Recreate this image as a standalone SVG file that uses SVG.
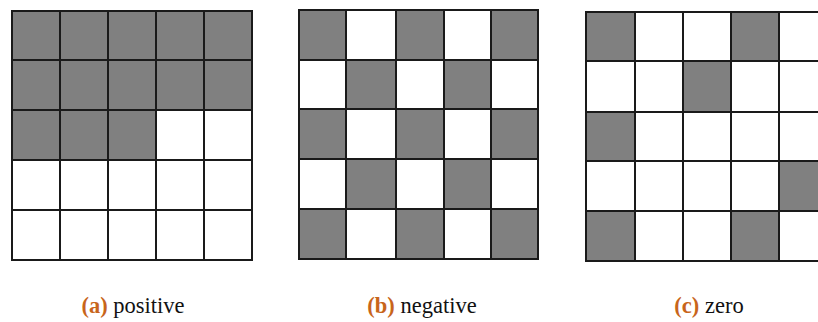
<svg xmlns="http://www.w3.org/2000/svg" width="818" height="322" viewBox="0 0 818 322">
<style>
.on{fill:#808080}
.off{fill:#ffffff}
.grid{fill:none;stroke:#1a1a1a;stroke-width:2}
.lbl{font-family:"Liberation Serif","DejaVu Serif",serif;font-size:22.5px;fill:#111}
.tag{fill:#c8651b;font-weight:bold}
</style>
<rect width="818" height="322" fill="#ffffff"/>
<g id="grid-a">
<rect class="on" x="12" y="11" width="240" height="100"/>
<rect class="on" x="12" y="110" width="144" height="50"/>
<path class="grid" d="M12 11H252V260H12Z M60 11V260 M108 11V260 M156 11V260 M204 11V260 M12 60H252 M12 110H252 M12 160H252 M12 210H252"/>
</g>
<g id="grid-b">
<rect class="on" x="299" y="10" width="47" height="50"/>
<rect class="on" x="396" y="10" width="48" height="50"/>
<rect class="on" x="491" y="10" width="47" height="50"/>
<rect class="on" x="346" y="60" width="50" height="49"/>
<rect class="on" x="444" y="60" width="47" height="49"/>
<rect class="on" x="299" y="109" width="47" height="50"/>
<rect class="on" x="396" y="109" width="48" height="50"/>
<rect class="on" x="491" y="109" width="47" height="50"/>
<rect class="on" x="346" y="159" width="50" height="50"/>
<rect class="on" x="444" y="159" width="47" height="50"/>
<rect class="on" x="299" y="209" width="47" height="50"/>
<rect class="on" x="396" y="209" width="48" height="50"/>
<rect class="on" x="491" y="209" width="47" height="50"/>
<path class="grid" d="M299 10H538V259H299Z M346 10V259 M396 10V259 M444 10V259 M491 10V259 M299 60H538 M299 109H538 M299 159H538 M299 209H538"/>
</g>
<g id="grid-c">
<rect class="on" x="586" y="12" width="49" height="49"/>
<rect class="on" x="731" y="12" width="48" height="49"/>
<rect class="on" x="683" y="61" width="48" height="51"/>
<rect class="on" x="586" y="112" width="49" height="49"/>
<rect class="on" x="779" y="161" width="48" height="50"/>
<rect class="on" x="586" y="211" width="49" height="50"/>
<rect class="on" x="731" y="211" width="48" height="50"/>
<path class="grid" d="M830 12H586V261H830 M635 12V261 M683 12V261 M731 12V261 M779 12V261 M586 61H830 M586 112H830 M586 161H830 M586 211H830"/>
</g>
<g id="labels">
<text class="lbl" x="133" y="313" text-anchor="middle"><tspan class="tag">(a)</tspan> positive</text>
<text class="lbl" x="422" y="313" text-anchor="middle"><tspan class="tag">(b)</tspan> negative</text>
<text class="lbl" x="709" y="313" text-anchor="middle"><tspan class="tag">(c)</tspan> zero</text>
</g>
</svg>
